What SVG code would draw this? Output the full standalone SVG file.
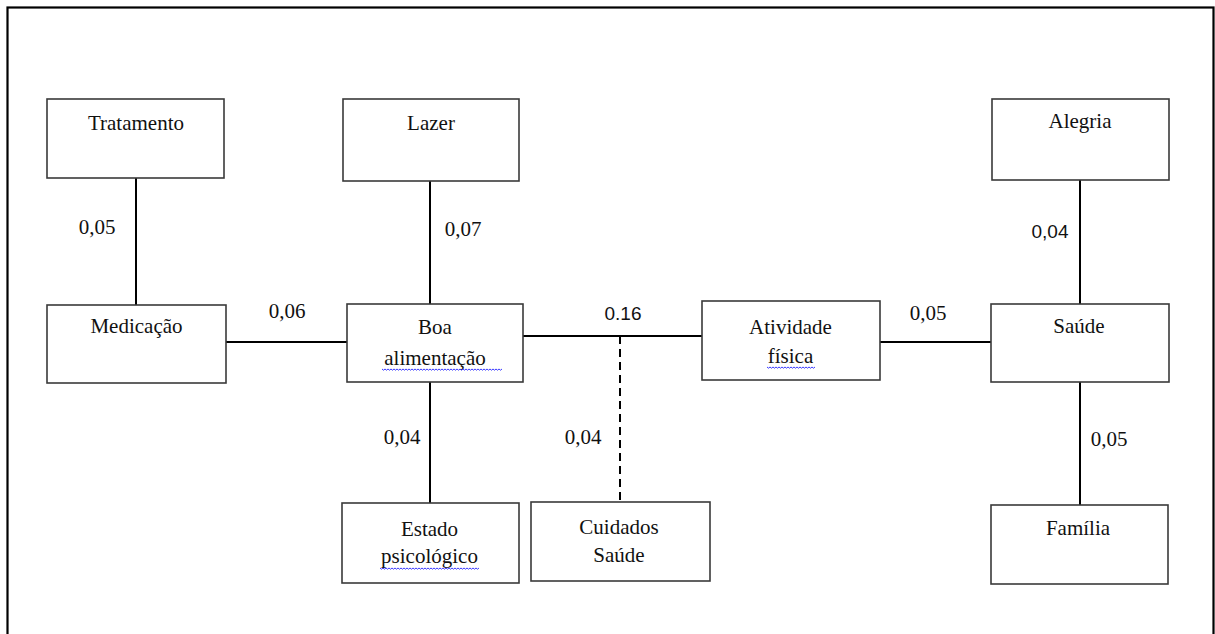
<svg xmlns="http://www.w3.org/2000/svg" width="1215" height="634" viewBox="0 0 1215 634">
<style>
.node{fill:#fff;stroke:#3a3a3a;stroke-width:1.6}
.t{font-family:'Liberation Serif','DejaVu Serif',serif;font-size:21px;fill:#111;text-anchor:middle}
.s{font-family:'Liberation Sans',Arial,sans-serif;font-size:19px;fill:#111;text-anchor:middle}
.c{stroke:#000;stroke-width:2;fill:none}
.d{stroke:#000;stroke-width:2;fill:none;stroke-dasharray:8 5}
.w{stroke:#3a3aff;stroke-width:1;fill:none}
</style>
<rect x="7.5" y="7.5" width="1206" height="700" fill="#fff" stroke="#000" stroke-width="2.2"/>
<g id="connectors">
<line class="c" x1="136" y1="178" x2="136" y2="305"/>
<line class="c" x1="430" y1="181" x2="430" y2="304"/>
<line class="c" x1="430" y1="382" x2="430" y2="503"/>
<line class="d" x1="620" y1="336" x2="620" y2="502"/>
<line class="c" x1="1080" y1="180" x2="1080" y2="304"/>
<line class="c" x1="1080" y1="382" x2="1080" y2="505"/>
<line class="c" x1="226" y1="342" x2="347" y2="342"/>
<line class="c" x1="523" y1="336" x2="702" y2="336"/>
<line class="c" x1="880" y1="342" x2="991" y2="342"/>
<text class="t" x="97" y="234">0,05</text>
<text class="t" x="463" y="236">0,07</text>
<text class="t" x="287" y="318">0,06</text>
<text class="s" x="623" y="320">0.16</text>
<text class="t" x="928" y="320">0,05</text>
<text class="s" x="1050" y="238">0,04</text>
<text class="t" x="402" y="444">0,04</text>
<text class="t" x="583" y="444">0,04</text>
<text class="t" x="1109" y="446">0,05</text>
</g>
<g id="tratamento"><rect class="node" x="47" y="99" width="177" height="79"/><text class="t" x="136" y="130">Tratamento</text></g>
<g id="lazer"><rect class="node" x="343" y="99" width="176" height="82"/><text class="t" x="431" y="130">Lazer</text></g>
<g id="alegria"><rect class="node" x="992" y="99" width="177" height="81"/><text class="t" x="1080" y="128">Alegria</text></g>
<g id="medicacao"><rect class="node" x="47" y="305" width="179" height="78"/><text class="t" x="136.5" y="333">Medicação</text></g>
<g id="boa-alimentacao"><rect class="node" x="347" y="304" width="176" height="78"/><text class="t" x="435" y="334">Boa</text><text class="t" x="435" y="365">alimentação</text>
<path class="w" d="M382 369 l1.5 1.2 1.5 -1.2 1.5 1.2 1.5 -1.2 1.5 1.2 1.5 -1.2 1.5 1.2 1.5 -1.2 1.5 1.2 1.5 -1.2 1.5 1.2 1.5 -1.2 1.5 1.2 1.5 -1.2 1.5 1.2 1.5 -1.2 1.5 1.2 1.5 -1.2 1.5 1.2 1.5 -1.2 1.5 1.2 1.5 -1.2 1.5 1.2 1.5 -1.2 1.5 1.2 1.5 -1.2 1.5 1.2 1.5 -1.2 1.5 1.2 1.5 -1.2 1.5 1.2 1.5 -1.2 1.5 1.2 1.5 -1.2 1.5 1.2 1.5 -1.2 1.5 1.2 1.5 -1.2 1.5 1.2 1.5 -1.2 1.5 1.2 1.5 -1.2 1.5 1.2 1.5 -1.2 1.5 1.2 1.5 -1.2 1.5 1.2 1.5 -1.2 1.5 1.2 1.5 -1.2 1.5 1.2 1.5 -1.2 1.5 1.2 1.5 -1.2 1.5 1.2 1.5 -1.2 1.5 1.2 1.5 -1.2 1.5 1.2 1.5 -1.2 1.5 1.2 1.5 -1.2 1.5 1.2 1.5 -1.2 1.5 1.2 1.5 -1.2 1.5 1.2 1.5 -1.2 1.5 1.2 1.5 -1.2 1.5 1.2 1.5 -1.2 1.5 1.2 1.5 -1.2 1.5 1.2 1.5 -1.2 1.5 1.2 1.5 -1.2 1.5 1.2 1.5 -1.2"/></g>
<g id="atividade-fisica"><rect class="node" x="702" y="301" width="178" height="79"/><text class="t" x="790.5" y="334">Atividade</text><text class="t" x="790.5" y="363">física</text>
<path class="w" d="M767 367 l1.5 1.2 1.5 -1.2 1.5 1.2 1.5 -1.2 1.5 1.2 1.5 -1.2 1.5 1.2 1.5 -1.2 1.5 1.2 1.5 -1.2 1.5 1.2 1.5 -1.2 1.5 1.2 1.5 -1.2 1.5 1.2 1.5 -1.2 1.5 1.2 1.5 -1.2 1.5 1.2 1.5 -1.2 1.5 1.2 1.5 -1.2 1.5 1.2 1.5 -1.2 1.5 1.2 1.5 -1.2 1.5 1.2 1.5 -1.2 1.5 1.2 1.5 -1.2 1.5 1.2 1.5 -1.2"/></g>
<g id="saude"><rect class="node" x="991" y="304" width="178" height="78"/><text class="t" x="1079" y="333">Saúde</text></g>
<g id="estado-psicologico"><rect class="node" x="342" y="503" width="177" height="80"/><text class="t" x="429.5" y="536">Estado</text><text class="t" x="429.5" y="563">psicológico</text>
<path class="w" d="M380 568 l1.5 1.2 1.5 -1.2 1.5 1.2 1.5 -1.2 1.5 1.2 1.5 -1.2 1.5 1.2 1.5 -1.2 1.5 1.2 1.5 -1.2 1.5 1.2 1.5 -1.2 1.5 1.2 1.5 -1.2 1.5 1.2 1.5 -1.2 1.5 1.2 1.5 -1.2 1.5 1.2 1.5 -1.2 1.5 1.2 1.5 -1.2 1.5 1.2 1.5 -1.2 1.5 1.2 1.5 -1.2 1.5 1.2 1.5 -1.2 1.5 1.2 1.5 -1.2 1.5 1.2 1.5 -1.2 1.5 1.2 1.5 -1.2 1.5 1.2 1.5 -1.2 1.5 1.2 1.5 -1.2 1.5 1.2 1.5 -1.2 1.5 1.2 1.5 -1.2 1.5 1.2 1.5 -1.2 1.5 1.2 1.5 -1.2 1.5 1.2 1.5 -1.2 1.5 1.2 1.5 -1.2 1.5 1.2 1.5 -1.2 1.5 1.2 1.5 -1.2 1.5 1.2 1.5 -1.2 1.5 1.2 1.5 -1.2 1.5 1.2 1.5 -1.2 1.5 1.2 1.5 -1.2 1.5 1.2 1.5 -1.2 1.5 1.2 1.5 -1.2"/></g>
<g id="cuidados-saude"><rect class="node" x="531" y="502" width="179" height="79"/><text class="t" x="619" y="534">Cuidados</text><text class="t" x="619" y="562">Saúde</text></g>
<g id="familia"><rect class="node" x="991" y="505" width="177" height="79"/><text class="t" x="1078" y="535">Família</text></g>
</svg>
